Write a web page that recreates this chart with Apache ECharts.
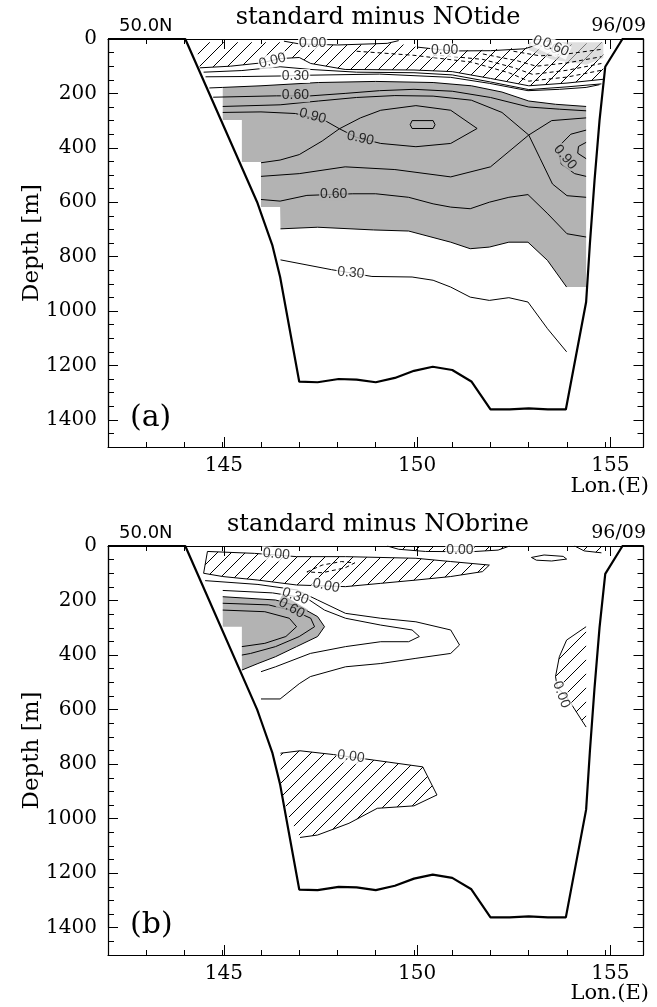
<!DOCTYPE html>
<html>
<head>
<meta charset="utf-8">
<script src="https://cdn.jsdelivr.net/npm/echarts@6/dist/echarts.min.js"></script>
<style>
html,body{margin:0;padding:0;background:#fff;}
#chart{width:657px;height:1007px;}
</style>
</head>
<body>
<div id="chart"></div>
<script>
// ---- axis ranges / ticks ----
var lonMin = 142, lonMax = 156, lonMinorStep = 1;
var lonLabelMin = 145, lonLabelMax = 155, lonLabelStep = 5;
var depthMax = 1500, depthMinorStep = 50;
var depthLabelMax = 1400, depthLabelStep = 200;

// ---- bottom topography (lon, depth) ----
var topo = [[142,0],[144.02,0],[145.9,600],[146.0,640],[146.3,760],[146.5,875],[147.0,1260],[147.48,1262],[148.03,1250],[148.5,1252],[149.0,1262],[149.5,1246],[150.0,1220],[150.49,1205],[151.0,1217],[151.5,1259],[152.0,1362],[152.5,1362],[153.0,1358],[153.5,1362],[153.97,1362],[154.5,967],[154.6,750],[154.72,520],[154.85,300],[155.0,102],[155.45,0],[156,0]];

// ---- (a) standard minus NOtide ----
var a_c000 = [[144.4,106],[145.2,100],[146,88],[146.5,72],[147,68],[147.3,90],[148.2,112],[150,114],[151,120],[152,145],[153,172],[154,162],[154.95,148]];
var a_c000top = [[146.6,8],[147,18],[148,22],[149.3,16],[149.6,6]];
var a_c000top2 = [[150.1,30],[151,44],[152,43],[152.9,36],[153.2,22]];
var a_c015 = [[144.5,122],[145.5,116],[146.5,102],[147.3,112],[148.5,122],[150,124],[151,132],[152,158],[153,186],[154,176],[154.9,165]];
var a_c030 = [[144.55,139],[145.5,138],[146.5,136],[147.3,133],[149.1,129],[150.96,141],[151.97,163],[152.98,190],[153.8,185],[154.5,178],[154.85,168]];
var a_c045 = [[144.65,180],[145,178],[146,172],[147.5,160],[149,156],[150.5,160],[151.5,172],[152.3,195],[153,228],[153.7,240],[154.5,248]];
var a_c060 = [[144.75,214],[146.4,209],[147.3,209],[148.2,200],[149.1,190],[150,185],[151,192],[152,215],[153,250],[153.8,258],[154.5,264]];
var a_c075 = [[145,248],[146.5,242],[147.5,228],[148.5,215],[149.5,208],[150.5,210],[151.5,225],[152.3,270],[153,353],[153.3,440],[153.62,533],[154,576],[154.5,582]];
var a_c075b = [[146.0,505],[147,495],[148.2,470],[149.5,480],[150.96,507],[152,470],[153,353],[153.6,300],[154.5,290]];
var a_c090 = [[145,270],[146,268],[146.9,274],[147.7,302],[148.05,330],[148.6,290],[149.13,262],[150.05,245],[150.96,262],[151.65,329],[150.96,384],[150.05,396],[149.13,384],[148.5,362],[148.05,330],[147.6,375],[147,425],[146.5,445],[146.0,455]];
var a_c090r = [[154.5,335],[154.1,350],[153.75,400],[153.85,460],[154.2,495],[154.5,505]];
var a_c105 = [[149.95,300],[150.5,300],[150.55,315],[150.5,329],[149.95,329],[149.9,315],[149.95,300]];
var a_c105r = [[154.5,380],[154.3,395],[154.28,420],[154.5,440]];
var a_c060low = [[146.0,590],[146.5,596],[147.2,575],[148.4,569],[149,569],[149.86,582],[150.5,606],[150.96,618],[151.47,624],[151.97,600],[152.48,582],[152.98,572],[153.5,643],[154,716],[154.5,728]];
var a_c045low = [[146.51,698],[147.48,692],[148.94,702],[149.86,706],[150.96,747],[151.47,771],[151.97,765],[152.48,747],[152.98,747],[153.49,814],[153.99,912]];
var a_c030low = [[146.51,812],[147.84,848],[148.9,873],[149.95,875],[150.5,887],[150.96,912],[151.47,949],[151.97,961],[152.48,951],[152.98,967],[153.49,1065],[153.99,1150]];
var a_neg = [
  [[148.5,45],[150,60],[151.5,85],[152.5,125],[153,155],[154,140],[154.9,115]],
  [[150.5,58],[151.8,75],[152.6,105],[153.1,130],[154,115],[154.9,90]],
  [[151.8,55],[152.7,80],[153.2,100],[154,88],[154.9,65]],
  [[152.6,45],[153.3,62],[154,55],[154.9,38]]
];
var a_grayEdge = [[146.5,618],[146.0,618],[146.0,452],[145.5,452],[145.5,298],[145.0,298]];
var a_hatchTop = [[144.3,12],[146.5,12],[147.3,22],[148.5,22],[149.5,15],[150.2,32],[151.5,42],[153,30],[154.95,12]];
var a_lightGray = [[153,12],[154.95,12],[154.95,70],[154.5,95],[153.6,75],[153,40]];
// labels: [text, lon, depth, angle]
var a_labels = [['0.00',146.3,80,15],['0.00',147.35,15,0],['0.00',150.8,42,0],['0.30',146.9,136,0],['0.30',148.35,860,-5],['0.30',153.45,22,-25],['0.60',153.7,30,-25]];
var a_labelsGray = [['0.60',146.9,207,0],['0.90',147.35,283,-15],['0.90',148.6,365,-12],['0.90',153.95,435,-50],['0.60',147.9,569,0]];

// ---- (b) standard minus NObrine ----
var b_c000 = [[144.6,20],[145.83,27],[146.93,39],[148.21,39],[150.05,45],[150.96,57],[151.97,70],[151.79,94],[150.96,112],[150.05,125],[149.13,137],[148.21,149],[146.93,143],[145.92,125],[145.0,112],[144.5,100]];
var b_cneg = [[147.2,95],[147.6,70],[148.1,57],[148.45,62],[148.2,80],[147.6,98],[147.2,95]];
var b_c000top = [[149.3,0],[149.6,12],[150.3,20],[151.5,21],[152.2,15],[152.5,0]];
var b_c000tr = [[154.2,0],[154.45,18],[154.9,25]];
var b_lens = [[153.07,42],[153.4,33],[153.9,38],[153.99,48],[153.6,55],[153.2,52],[153.07,42]];
var b_c015 = [[144.54,127],[145.92,141],[146.93,161],[147.48,198],[148.21,247],[149.13,265],[150.05,278],[150.96,308],[151.19,363],[150.96,394],[150.05,412],[149.13,431],[148.21,443],[147.29,479],[147.0,505],[146.5,561],[146.0,561]];
var b_c030 = [[145.0,163],[146.3,172],[147.2,192],[147.66,235],[148.21,265],[149.13,290],[149.95,308],[150.14,332],[149.86,351],[149.13,351],[148.21,369],[147.29,394],[146.38,443],[146.0,461]];
var b_c045 = [[145.0,186],[146.38,198],[147.02,223],[147.48,259],[147.66,296],[147.48,332],[146.93,369],[146.38,406],[145.92,431],[145.5,455]];
var b_c060 = [[145.0,210],[146.2,216],[146.9,240],[147.3,265],[147.4,296],[147.0,332],[146.38,369],[145.73,394],[145.5,400]];
var b_c075 = [[145.0,235],[146.1,241],[146.74,265],[146.93,296],[146.65,332],[146.1,357],[145.5,369]];
var b_grayEdge = [[145.5,296],[145.0,296]];
var b_c000low = [[146.51,760],[147.02,751],[147.9,765],[148.94,785],[150.23,810],[150.6,913],[150.0,953],[149.04,962],[148.3,1017],[147.48,1060],[147.02,1069]];
var b_lowEdge = [[146.75,1000],[146.51,895]];
var b_c000r = [[154.5,296],[153.99,345],[153.8,406],[153.7,479],[153.75,520],[153.99,553],[154.5,664]];
var b_labels = [['0.00',146.4,30,-5],['0.00',147.7,146,-12],['0.00',151.2,14,0],['0.30',146.9,184,-20],['0.00',148.35,772,-8],['0.00',153.85,545,-70]];
var b_labelsGray = [['0.60',146.8,228,-30]];

var SERIF = 'DejaVu Serif';
var SANS = 'Liberation Sans';
var GRAY = '#b3b3b3';

// frame layout of both panels
var W = 657, LEFT = 108, RIGHT = 8;
var panels = [{ top: 39, height: 408 }, { top: 546, height: 409 }];
var plotW = W - LEFT - RIGHT;

function hatchPattern() {
  var c = document.createElement('canvas');
  var s = 14;
  c.width = s; c.height = s;
  var ctx = c.getContext('2d');
  ctx.strokeStyle = '#000';
  ctx.lineWidth = 1;
  ctx.beginPath();
  ctx.moveTo(0, s); ctx.lineTo(s, 0);
  ctx.moveTo(-2, 2); ctx.lineTo(2, -2);
  ctx.moveTo(s - 2, s + 2); ctx.lineTo(s + 2, s - 2);
  ctx.stroke();
  return { image: c, repeat: 'repeat' };
}
var HATCH = hatchPattern();

// grids: 0,1 = main panels; 2,3 = helper for lon labels/major ticks; 4,5 = helper for depth labels/major ticks
var grids = [], xAxis = [], yAxis = [];
panels.forEach(function (p) {
  grids.push({ left: LEFT, width: plotW, top: p.top, height: p.height });
});
panels.forEach(function (p) {
  var pxPerDeg = plotW / (lonMax - lonMin);
  grids.push({ left: LEFT + (lonLabelMin - lonMin) * pxPerDeg, width: (lonLabelMax - lonLabelMin) * pxPerDeg,
    top: p.top, height: p.height });
});
panels.forEach(function (p) {
  grids.push({ left: LEFT, width: plotW, top: p.top, height: p.height * depthLabelMax / depthMax });
});

// every tick-carrying axis keeps its line and labels on (ticks take their colour from the line)
var frameLine = { show: true, onZero: false, lineStyle: { color: '#000', width: 1.2 } };
function tick(len) { return { show: true, inside: true, length: len }; }
var serifLabel = { show: true, color: '#000', fontFamily: SERIF, fontSize: 20,
  formatter: function (v) { return String(v); } };
var ghostLabel = { show: true, color: 'rgba(0,0,0,0)', fontSize: 1 };

[0, 1].forEach(function (g) {
  // main grid: frame + minor ticks
  xAxis.push({ gridIndex: g, type: 'value', min: lonMin, max: lonMax, interval: lonMinorStep, position: 'bottom',
    axisLine: frameLine, axisTick: tick(5), axisLabel: ghostLabel, splitLine: { show: false } });
  xAxis.push({ gridIndex: g, type: 'value', min: lonMin, max: lonMax, interval: lonMinorStep, position: 'top',
    axisLine: frameLine, axisTick: tick(5), axisLabel: ghostLabel, splitLine: { show: false } });
  yAxis.push({ gridIndex: g, type: 'value', min: 0, max: depthMax, interval: depthMinorStep, inverse: true, position: 'left',
    axisLine: frameLine, axisTick: tick(6), axisLabel: ghostLabel, splitLine: { show: false },
    name: 'Depth [m]', nameLocation: 'middle', nameGap: 64,
    nameTextStyle: { color: '#000', fontFamily: SERIF, fontSize: 23 } });
  yAxis.push({ gridIndex: g, type: 'value', min: 0, max: depthMax, interval: depthMinorStep, inverse: true, position: 'right',
    axisLine: frameLine, axisTick: tick(6), axisLabel: ghostLabel, splitLine: { show: false } });
});
[0, 1].forEach(function (g) {
  // lon helper grid: major ticks + labels
  xAxis.push({ gridIndex: 2 + g, type: 'value', min: lonLabelMin, max: lonLabelMax, interval: lonLabelStep, position: 'bottom',
    axisLine: frameLine, axisTick: tick(10), axisLabel: Object.assign({ margin: 9 }, serifLabel), splitLine: { show: false } });
  xAxis.push({ gridIndex: 2 + g, type: 'value', min: lonLabelMin, max: lonLabelMax, interval: lonLabelStep, position: 'top',
    axisLine: frameLine, axisTick: tick(10), axisLabel: ghostLabel, splitLine: { show: false } });
  yAxis.push({ gridIndex: 2 + g, type: 'value', min: 0, max: depthMax, show: false });
  yAxis.push({ gridIndex: 2 + g, type: 'value', min: 0, max: depthMax, show: false, position: 'right' });
});
[0, 1].forEach(function (g) {
  // depth helper grid: major ticks + labels
  yAxis.push({ gridIndex: 4 + g, type: 'value', min: 0, max: depthLabelMax, interval: depthLabelStep, inverse: true, position: 'left',
    axisLine: frameLine, axisTick: tick(10), axisLabel: Object.assign({ margin: 11 }, serifLabel), splitLine: { show: false } });
  yAxis.push({ gridIndex: 4 + g, type: 'value', min: 0, max: depthLabelMax, interval: depthLabelStep, inverse: true, position: 'right',
    axisLine: frameLine, axisTick: tick(10), axisLabel: ghostLabel, splitLine: { show: false } });
  xAxis.push({ gridIndex: 4 + g, type: 'value', min: lonMin, max: lonMax, show: false });
  xAxis.push({ gridIndex: 4 + g, type: 'value', min: lonMin, max: lonMax, show: false, position: 'top' });
});

function poly(g, pts, fill, z) {
  return {
    type: 'custom', coordinateSystem: 'cartesian2d', xAxisIndex: 2 * g, yAxisIndex: 2 * g,
    data: [pts[0]], silent: true, z: z, clip: true,
    renderItem: function (params, api) {
      return { type: 'polygon', shape: { points: pts.map(function (p) { return api.coord(p); }) },
        style: { fill: fill, stroke: null } };
    }
  };
}
function line(g, pts, w, z, dash) {
  return {
    type: 'line', xAxisIndex: 2 * g, yAxisIndex: 2 * g, data: pts, symbol: 'none', showSymbol: false,
    lineStyle: { color: '#000', width: w, type: dash ? [4, 3] : 'solid' }, z: z, silent: true, clip: true
  };
}
function labels(g, list, bg) {
  return {
    type: 'scatter', xAxisIndex: 2 * g, yAxisIndex: 2 * g, symbolSize: 1, silent: true, z: 8,
    itemStyle: { color: 'rgba(0,0,0,0)' },
    label: { show: true, position: 'inside', color: '#000', fontFamily: SANS, fontSize: 14,
      backgroundColor: bg, padding: [0, 1] },
    data: list.map(function (l) {
      return { value: [l[1], l[2]], label: { formatter: l[0], rotate: l[3] } };
    })
  };
}

var series = [];
// (a)
series.push(poly(0, a_hatchTop.concat(a_c000.slice().reverse()), HATCH, 1));
series.push(poly(0, a_lightGray, 'rgba(200,200,200,0.6)', 1));
series.push(poly(0, a_c045.slice(1).concat([[154.5, 912]], a_c045low.slice().reverse(), a_grayEdge), GRAY, 2));
[a_c000, a_c000top, a_c000top2, a_c015, a_c030, a_c045, a_c060, a_c075, a_c075b, a_c090, a_c090r,
 a_c105, a_c105r, a_c060low, a_c045low, a_c030low].forEach(function (l) { series.push(line(0, l, 1, 4)); });
a_neg.forEach(function (l) { series.push(line(0, l, 1, 4, true)); });
series.push(labels(0, a_labels, '#fff'));
series.push(labels(0, a_labelsGray, GRAY));
series.push(line(0, topo, 2.2, 9));
// (b)
series.push(poly(1, b_c000, HATCH, 1));
series.push(poly(1, b_c000top, HATCH, 1));
series.push(poly(1, b_c000tr.concat([[154.9, 0]]), HATCH, 1));
series.push(poly(1, b_c000low.concat(b_lowEdge), HATCH, 1));
series.push(poly(1, b_c000r, HATCH, 1));
series.push(poly(1, b_c045.concat(b_grayEdge), GRAY, 2));
[b_c000.concat([b_c000[0]]), b_c000top, b_c000tr, b_lens, b_c015, b_c030, b_c045, b_c060, b_c075,
 b_c000low, b_c000r].forEach(function (l) { series.push(line(1, l, 1, 4)); });
series.push(line(1, b_cneg, 1, 4, true));
series.push(labels(1, b_labels, '#fff'));
series.push(labels(1, b_labelsGray, GRAY));
series.push(line(1, topo, 2.2, 9));

function txt(x, y, s, font, align) {
  return { type: 'text', x: x, y: y, z: 100,
    style: { text: s, font: font, fill: '#000', align: align, verticalAlign: 'middle',
      textAlign: align, textVerticalAlign: 'middle' } };
}
var graphics = [];
[['standard minus NOtide', '(a)'], ['standard minus NObrine', '(b)']].forEach(function (p, i) {
  var o = panels[i].top - panels[0].top;
  graphics.push(txt(378, 18 + o, p[0], '24px "DejaVu Serif"', 'center'));
  graphics.push(txt(119, 26 + o, '50.0N', '18px "DejaVu Sans"', 'left'));
  graphics.push(txt(646, 26 + o, '96/09', '19px "DejaVu Serif"', 'right'));
  graphics.push(txt(130, 418 + o, p[1], '30px "DejaVu Serif"', 'left'));
  graphics.push(txt(649, 487 + o, 'Lon.(E)', '21px "DejaVu Serif"', 'right'));
});

var chart = echarts.init(document.getElementById('chart'), null, { renderer: 'canvas' });
chart.setOption({
  animation: false,
  backgroundColor: '#fff',
  grid: grids,
  xAxis: xAxis,
  yAxis: yAxis,
  series: series,
  graphic: graphics
});
</script>
</body>
</html>
